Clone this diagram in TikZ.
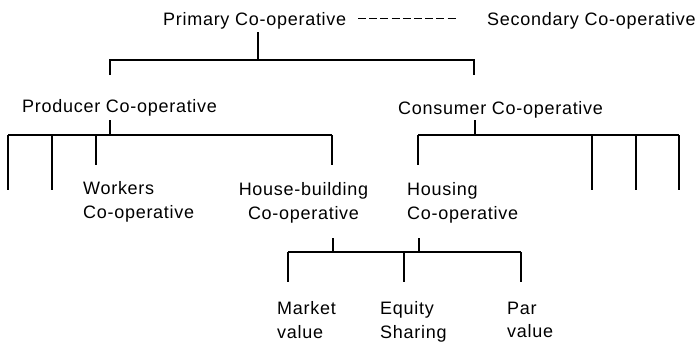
\documentclass[tikz,border=0pt]{standalone}
\usepackage{fontspec}
\setmainfont{Liberation Sans}[LetterSpace=4]
\begin{document}
\begin{tikzpicture}[x=1pt,y=-1pt,
  lbl/.style={inner sep=0pt, font=\fontsize{18}{23.5}\selectfont},
  tree/.style={line width=1.4pt, line cap=butt},
  link/.style={line width=1.1pt, dash pattern=on 8pt off 3.2pt}]
\useasboundingbox (0,0) rectangle (695,341);

% labels
\node[lbl, anchor=base west] (prim) at (163,25) {Primary Co-operative};
\node[lbl, anchor=base west] (sec)  at (487,25) {Secondary Co-operative};
\node[lbl, anchor=base west] (prod) at (22,112) {Producer Co-operative};
\node[lbl, anchor=base west] (cons) at (398,114) {Consumer Co-operative};
\node[lbl, anchor=north west, align=left] (work) at (83,181.7) {Workers\\Co-operative};
\node[lbl, anchor=north, align=center] (hb) at (303.5,182.7) {House-building\\Co-operative};
\node[lbl, anchor=north west, align=left] (hous) at (407,182.7) {Housing\\Co-operative};
\node[lbl, anchor=north west, align=left] (mkt) at (277,301.7) {Market\\value};
\node[lbl, anchor=north west, align=left] (eq) at (380,301.7) {Equity\\Sharing};
\node[lbl, anchor=north west, align=left] (par) at (507,301.7) {Par\\value};

% dashed link between primary and secondary
\coordinate (d1) at (358,18.3);
\coordinate (d2) at (458,18.3);
\draw[link] (d1) -- (d2);

% primary -> producer / consumer
\coordinate (p0) at (258,32);
\coordinate (p1) at (258,60);
\coordinate (pl) at (110,60);
\coordinate (pr) at (474,60);
\draw[tree] (p0) -- (p1);
\draw[tree] (110,75) -- (pl) -- (pr) -- (474,75);

% producer branches
\coordinate (q0) at (110,120);
\coordinate (q1) at (110,135);
\draw[tree] (q0) -- (q1);
\draw[tree] (8,135) -- (332,135);
\draw[tree] (8,135) -- (8,190);
\draw[tree] (52,135) -- (52,190);
\draw[tree] (96,135) -- (96,165);
\draw[tree] (332,135) -- (332,165);

% consumer branches
\coordinate (r0) at (475,120);
\coordinate (r1) at (475,135);
\draw[tree] (r0) -- (r1);
\draw[tree] (418,135) -- (679,135);
\draw[tree] (418,135) -- (418,165);
\draw[tree] (592,135) -- (592,190);
\draw[tree] (636,135) -- (636,190);
\draw[tree] (679,135) -- (679,190);

% house-building and housing -> tenure types
\coordinate (s0) at (333,238);
\coordinate (s1) at (419,238);
\draw[tree] (s0) -- (333,252);
\draw[tree] (s1) -- (419,252);
\draw[tree] (288,252) -- (521,252);
\draw[tree] (288,252) -- (288,282);
\draw[tree] (404,252) -- (404,282);
\draw[tree] (521,252) -- (521,282);
\end{tikzpicture}
\end{document}
